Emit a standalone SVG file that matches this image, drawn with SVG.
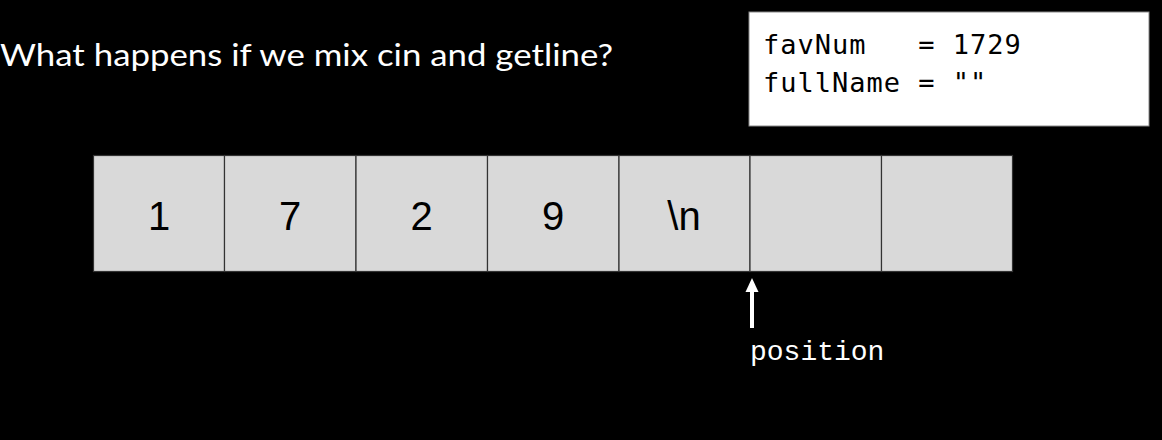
<svg xmlns="http://www.w3.org/2000/svg" width="1162" height="440" viewBox="0 0 1162 440">
<style>
.title{font-family:Lato,"Liberation Sans",sans-serif;font-size:30px;fill:#fff}
.code{font-family:"DejaVu Sans Mono",monospace;font-size:27px;fill:#000;letter-spacing:1px}
.cell{fill:#d9d9d9;stroke:#333;stroke-width:1.2}
.digit{font-family:"Liberation Sans",Arial,sans-serif;font-size:40px;fill:#000;text-anchor:middle}
.pos{font-family:"Liberation Mono","Courier New",monospace;font-size:28px;fill:#fff}
</style>
<rect width="1162" height="440" fill="#000"/>
<g id="title"><text class="title" x="0" y="66" textLength="613" lengthAdjust="spacingAndGlyphs">What happens if we mix cin and getline?</text></g>
<g id="vars">
<rect x="749" y="12" width="400" height="114" fill="#fff" stroke="#888" stroke-width="1"/>
<text class="code" x="763" y="54" xml:space="preserve">favNum   = 1729</text>
<text class="code" x="763" y="92" xml:space="preserve">fullName = ""</text>
</g>
<g id="buffer">
<g id="c0"><rect class="cell" x="93.5" y="155.5" width="131" height="116"/><text class="digit" x="159" y="230">1</text></g>
<g id="c1"><rect class="cell" x="224.5" y="155.5" width="131.5" height="116"/><text class="digit" x="290" y="230">7</text></g>
<g id="c2"><rect class="cell" x="356" y="155.5" width="131.5" height="116"/><text class="digit" x="421.5" y="230">2</text></g>
<g id="c3"><rect class="cell" x="487.5" y="155.5" width="131.5" height="116"/><text class="digit" x="553" y="230">9</text></g>
<g id="c4"><rect class="cell" x="619" y="155.5" width="131" height="116"/><text class="digit" x="684" y="230">\n</text></g>
<g id="c5"><rect class="cell" x="750" y="155.5" width="131.5" height="116"/></g>
<g id="c6"><rect class="cell" x="881.5" y="155.5" width="131" height="116"/></g>
</g>
<g id="connectors">
<line x1="752" y1="328" x2="752" y2="290" stroke="#fff" stroke-width="4"/>
<polygon points="752,278 745.5,292 758.5,292" fill="#fff"/>
</g>
<g id="label"><text class="pos" x="750" y="360">position</text></g>
</svg>
